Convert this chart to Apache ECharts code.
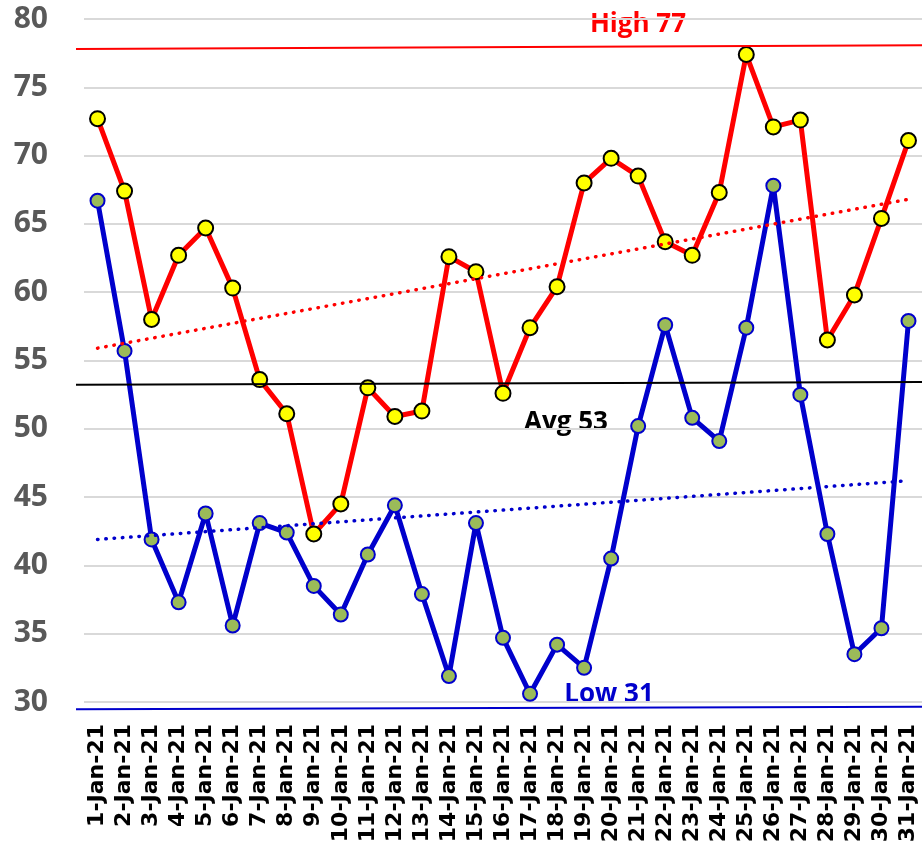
<!DOCTYPE html>
<html>
<head>
<meta charset="utf-8">
<script src="https://cdn.jsdelivr.net/npm/echarts@6/dist/echarts.min.js"></script>
<style>
  html, body { margin: 0; padding: 0; background: #fff; }
  #chart { width: 922px; height: 854px; }
</style>
</head>
<body>
<div id="chart"></div>
<script>
// daily values, January 2021
const days = [];
for (let d = 1; d <= 31; d++) days.push(d + '-Jan-21');

const highTemps = [72.7, 67.4, 58.0, 62.7, 64.7, 60.3, 53.6, 51.1, 42.3, 44.5,
  53.0, 50.9, 51.3, 62.6, 61.5, 52.6, 57.4, 60.4, 68.0, 69.8,
  68.5, 63.7, 62.7, 67.3, 77.4, 72.1, 72.6, 56.5, 59.8, 65.4, 71.1];
const lowTemps = [66.7, 55.7, 41.9, 37.3, 43.8, 35.6, 43.1, 42.4, 38.5, 36.4,
  40.8, 44.4, 37.9, 31.9, 43.1, 34.7, 30.6, 34.2, 32.5, 40.5,
  50.2, 57.6, 50.8, 49.1, 57.4, 67.8, 52.5, 42.3, 33.5, 35.4, 57.9];

// trendline end points (first day, last day)
const highTrend = [55.9, 66.8];
const lowTrend = [41.9, 46.2];

// reference lines (left end, right end)
const highRef = [77.8, 78.07];
const avgRef = [53.23, 53.43];
const lowRef = [29.47, 29.66];

const RED = '#ff0000';
const BLUE = '#0000cc';

const chart = echarts.init(document.getElementById('chart'));

const refLine = (vals, color) => ({
  type: 'line',
  xAxisIndex: 1,
  yAxisIndex: 1,
  data: [[0, vals[0]], [1, vals[1]]],
  symbol: 'none',
  clip: false,
  silent: true,
  z: 6,
  lineStyle: { color, width: 2 }
});

const trendLine = (vals, color) => ({
  type: 'line',
  data: [[0, vals[0]], [days.length - 1, vals[1]]],
  symbol: 'none',
  silent: true,
  z: 5,
  lineStyle: { color, width: 3.5, type: [0.5, 7.8], cap: 'round' }
});

const textStyle = (color) => ({
  fill: color,
  font: 'bold 26px "Open Sans"',
  textAlign: 'center',
  textVerticalAlign: 'middle'
});

chart.setOption({
  animation: false,
  grid: [
    { left: 84, right: -3, top: 19, bottom: 152 },
    { left: 76, right: 0, top: 19, bottom: 152 }
  ],
  xAxis: [{
    type: 'category',
    data: days,
    gridIndex: 0,
    axisLine: { show: false },
    axisTick: { show: false },
    axisLabel: {
      interval: 0,
      rotate: 90,
      margin: 22,
      color: '#000',
      fontFamily: 'DejaVu Sans',
      fontWeight: 'bold',
      fontSize: 22
    }
  }, {
    type: 'value',
    gridIndex: 1,
    min: 0,
    max: 1,
    show: false
  }],
  yAxis: [{
    type: 'value',
    gridIndex: 0,
    min: 30,
    max: 80,
    interval: 5,
    axisLine: { show: false },
    axisTick: { show: false },
    splitLine: { lineStyle: { color: '#d9d9d9', width: 2 } },
    axisLabel: {
      margin: 36,
      color: '#595959',
      fontFamily: 'Open Sans',
      fontWeight: 'bold',
      fontSize: 30
    }
  }, {
    type: 'value',
    gridIndex: 1,
    min: 30,
    max: 80,
    show: false
  }],
  series: [
    {
      name: 'High',
      type: 'line',
      data: highTemps,
      symbol: 'circle',
      symbolSize: 15,
      lineStyle: { color: RED, width: 5 },
      itemStyle: { color: '#ffff00', borderColor: '#000', borderWidth: 2 },
      z: 3
    },
    {
      name: 'Low',
      type: 'line',
      data: lowTemps,
      symbol: 'circle',
      symbolSize: 14,
      lineStyle: { color: BLUE, width: 5 },
      itemStyle: { color: '#9bbb59', borderColor: BLUE, borderWidth: 2 },
      z: 3
    },
    trendLine(highTrend, RED),
    trendLine(lowTrend, BLUE),
    refLine(highRef, RED),
    refLine(avgRef, '#000'),
    refLine(lowRef, BLUE)
  ],
  graphic: [
    { type: 'text', x: 638, y: 25, style: { text: 'High 77', ...textStyle(RED) } },
    { type: 'text', x: 566, y: 423, style: { text: 'Avg 53', ...textStyle('#000') } },
    { type: 'text', x: 609, y: 695, style: { text: 'Low 31', ...textStyle(BLUE) } }
  ]
});
</script>
</body>
</html>
